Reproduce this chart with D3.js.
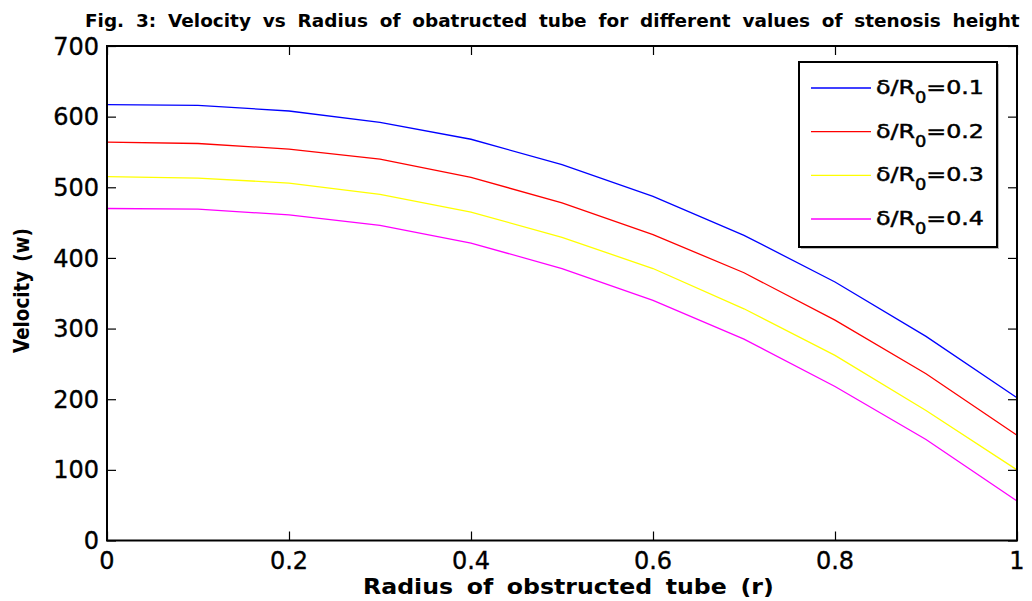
<!DOCTYPE html>
<html>
<head>
<meta charset="utf-8">
<script src="https://cdn.jsdelivr.net/npm/d3@7"></script>
<style>
  html, body { margin: 0; padding: 0; background: #fff; }
  svg { display: block; }
  text { font-family: "DejaVu Sans", sans-serif; fill: #000; }
</style>
</head>
<body>
<svg id="chart" width="1032" height="601"></svg>
<script>
// Radius positions (r) and velocity profiles for each stenosis height
const radius = [0, 0.1, 0.2, 0.3, 0.4, 0.5, 0.6, 0.7, 0.8, 0.9, 1.0];
const vel01 = [617, 616, 608, 592, 568, 532, 487, 432, 366, 289, 202];
const vel02 = [564, 562, 554, 540, 514, 478, 433, 379, 312, 236, 149];
const vel03 = [515, 513, 506, 490, 465, 429, 385, 328, 262, 184, 100];
const vel04 = [470, 469, 461, 446, 421, 385, 340, 285, 218, 143, 56];
const heights = ["0.1", "0.2", "0.3", "0.4"];
const colors = ["#0000ff", "#ff0000", "#ffff00", "#ff00ff"];
const xTicks = [0, 0.2, 0.4, 0.6, 0.8, 1];
const yTicks = [0, 100, 200, 300, 400, 500, 600, 700];

const titleText = "Fig. 3: Velocity vs Radius of obatructed tube for different values of stenosis height";
const xLabelText = "Radius of obstructed tube (r)";
const yLabelText = "Velocity (w)";

const series = [vel01, vel02, vel03, vel04].map((v, i) => ({
  name: heights[i], color: colors[i], values: v.map((w, j) => ({ r: radius[j], w }))
}));

const svg = d3.select("#chart");
const plot = { left: 107, right: 1017, top: 46, bottom: 540.5 };

const x = d3.scaleLinear().domain([0, 1]).range([plot.left, plot.right]);
const y = d3.scaleLinear().domain([0, 700]).range([plot.bottom, plot.top]);

// Stretch a text element horizontally about its anchor so it spans a given width
function fitWidth(sel, width, ax) {
  const b = sel.node().getBBox();
  const s = width / b.width;
  sel.attr("transform", `translate(${ax},0) scale(${s},1) translate(${-ax},0)`);
}

// Curves
const line = d3.line().x(d => x(d.r)).y(d => y(d.w));
svg.append("g").selectAll("path").data(series).join("path")
  .attr("d", d => line(d.values))
  .attr("fill", "none")
  .attr("stroke", d => d.color)
  .attr("stroke-width", 1.3);

// Axes with inward ticks on all four sides
const tickLen = 9;
const fmtX = d => d3.format("~g")(d);
const axB = svg.append("g").attr("transform", `translate(0,${plot.bottom})`)
  .call(d3.axisBottom(x).tickValues(xTicks).tickSize(-tickLen).tickFormat(""));
const axT = svg.append("g").attr("transform", `translate(0,${plot.top})`)
  .call(d3.axisTop(x).tickValues(xTicks).tickSize(-tickLen).tickFormat(""));
const axL = svg.append("g").attr("transform", `translate(${plot.left},0)`)
  .call(d3.axisLeft(y).tickValues(yTicks).tickSize(-tickLen).tickFormat(""));
const axR = svg.append("g").attr("transform", `translate(${plot.right},0)`)
  .call(d3.axisRight(y).tickValues(yTicks).tickSize(-tickLen).tickFormat(""));
[axB, axT, axL, axR].forEach(a => {
  a.select(".domain").remove();
  a.selectAll(".tick line").attr("stroke", "#000").attr("stroke-width", 1.2);
});

// Frame
svg.append("rect")
  .attr("x", plot.left).attr("y", plot.top)
  .attr("width", plot.right - plot.left).attr("height", plot.bottom - plot.top)
  .attr("fill", "none").attr("stroke", "#000").attr("stroke-width", 2);

// Tick labels
svg.append("g").selectAll("text").data(xTicks).join("text")
  .attr("x", d => x(d)).attr("y", 569)
  .attr("text-anchor", "middle")
  .style("font-size", "24px")
  .style("stroke", "#000").style("stroke-width", 0.35)
  .text(fmtX);
svg.append("g").selectAll("text").data(yTicks).join("text")
  .attr("x", plot.left - 8).attr("y", d => y(d) + 8.6)
  .attr("text-anchor", "end")
  .style("font-size", "24px")
  .style("stroke", "#000").style("stroke-width", 0.35)
  .text(d => d);

// Title
const title = svg.append("text")
  .attr("x", 85).attr("y", 27)
  .style("font-size", "17px").style("font-weight", "bold")
  .style("word-spacing", "5px")
  .text(titleText);
fitWidth(title, 935, 85);

// Axis labels
const xl = svg.append("text")
  .attr("x", 363).attr("y", 594)
  .style("font-size", "22px").style("font-weight", "bold")
  .style("word-spacing", "5px")
  .text(xLabelText);
fitWidth(xl, 411, 363);

const yl = svg.append("g").attr("transform", "translate(29,353) rotate(-90)")
  .append("text").attr("x", 0).attr("y", 0)
  .style("font-size", "21px").style("font-weight", "bold")
  .style("word-spacing", "3px")
  .text(yLabelText);
fitWidth(yl, 125, 0);

// Legend
const lg = { x: 799, y: 62, w: 198, h: 185 };
svg.append("rect")
  .attr("x", lg.x + 2).attr("y", lg.y + 2).attr("width", lg.w).attr("height", lg.h)
  .attr("fill", "#bbb");
svg.append("rect")
  .attr("x", lg.x).attr("y", lg.y).attr("width", lg.w).attr("height", lg.h)
  .attr("fill", "#fff").attr("stroke", "#000").attr("stroke-width", 2);

const rowY = d3.scalePoint().domain(heights).range([88, 219]);
const rows = svg.append("g").selectAll("g").data(series).join("g");
rows.append("line")
  .attr("x1", 811).attr("x2", 871)
  .attr("y1", d => rowY(d.name)).attr("y2", d => rowY(d.name))
  .attr("stroke", d => d.color).attr("stroke-width", 1.3);
rows.each(function (d) {
  const t = d3.select(this).append("text")
    .attr("x", 876).attr("y", rowY(d.name) + 6)
    .style("font-size", "20px")
    .style("stroke", "#000").style("stroke-width", 0.5);
  t.append("tspan").text("δ/R");
  t.append("tspan").attr("dy", 9).style("font-size", "15px").text("0");
  t.append("tspan").attr("dy", -9).text("=" + d.name);
  fitWidth(t, 108, 876);
});
</script>
</body>
</html>
